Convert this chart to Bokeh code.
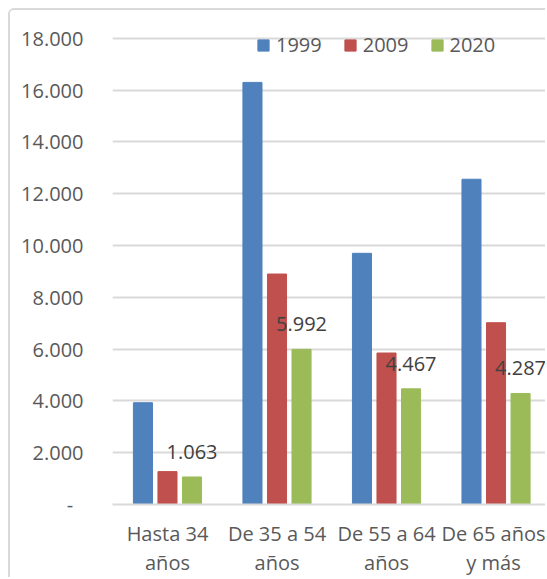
from bokeh.plotting import figure
from bokeh.models import ColumnDataSource, Legend, LegendItem, FixedTicker, Range1d
from bokeh.transform import dodge
from bokeh.core.properties import value
from bokeh.embed import file_html
from bokeh.resources import INLINE

categories = ["Hasta 34\naños", "De 35 a 54\naños", "De 55 a 64\naños", "De 65 años\ny más"]
years = ["1999", "2009", "2020"]
values_1999 = [3930, 16300, 9700, 12560]
values_2009 = [1270, 8900, 5850, 7020]
values_2020 = [1063, 5992, 4467, 4287]
labels_2020 = ["1.063", "5.992", "4.467", "4.287"]
y_ticks = [0, 2000, 4000, 6000, 8000, 10000, 12000, 14000, 16000, 18000]
y_tick_labels = ["-\u00a0\u00a0", "2.000", "4.000", "6.000", "8.000", "10.000",
                 "12.000", "14.000", "16.000", "18.000"]
colors = ["#4F81BD", "#C0504D", "#9BBB59"]

FONT = "Open Sans"
TXT = "#595959"

idx = list(range(len(categories)))
src = ColumnDataSource(dict(x=idx, v1999=values_1999, v2009=values_2009,
                            v2020=values_2020, lab=labels_2020))

p = figure(x_range=Range1d(-0.502, 3.47), y_range=Range1d(0, 18690), width=537, height=569,
           output_backend="svg", toolbar_location=None,
           min_border_left=102, min_border_right=0, min_border_top=10, min_border_bottom=73)
p.styles = {"margin-left": "8px", "margin-top": "8px",
            "border-left": "2px solid #d9d9d9", "border-top": "2px solid #d9d9d9",
            "border-top-left-radius": "6px"}
p.outline_line_color = None
p.background_fill_color = "white"
p.border_fill_color = "white"

stride = 0.224
bw = 0.174
renderers = []
for i, (col, c) in enumerate(zip(["v1999", "v2009", "v2020"], colors)):
    r = p.vbar(x=dodge("x", (i - 1) * stride), top=col, width=bw,
               source=src, fill_color=c, line_color=c)
    renderers.append(r)

p.text(x=dodge("x", stride), y="v2020", text="lab", source=src,
       text_align="center", text_baseline="middle", y_offset=-25, x_offset=0,
       text_font=value(FONT), text_font_size="20px", text_color="#404040")

p.yaxis.ticker = FixedTicker(ticks=y_ticks)
p.yaxis.major_label_overrides = {t: l for t, l in zip(y_ticks, y_tick_labels)}
p.xaxis.ticker = FixedTicker(ticks=idx)
p.xaxis.major_label_overrides = {i: c for i, c in zip(idx, categories)}
for ax in (p.xaxis, p.yaxis):
    ax.major_tick_line_color = None
    ax.minor_tick_line_color = None
    ax.major_label_text_font = FONT
    ax.major_label_text_font_size = "20px"
    ax.major_label_text_color = TXT
p.yaxis.axis_line_color = None
p.yaxis.major_label_standoff = 23
p.xaxis.axis_line_color = "#d9d9d9"
p.xaxis.axis_line_width = 2
p.xaxis.major_label_standoff = 9
p.xaxis.major_label_text_line_height = 1.1

p.xgrid.grid_line_color = None
p.ygrid.grid_line_color = "#d9d9d9"
p.ygrid.grid_line_width = 2

legend = Legend(items=[LegendItem(label=y, renderers=[r]) for y, r in zip(years, renderers)],
                orientation="horizontal", location=(144, 446), padding=0, margin=0,
                glyph_width=14, glyph_height=14, label_standoff=6, spacing=21,
                label_text_font=FONT, label_text_font_size="20px", label_text_color=TXT,
                border_line_color=None, background_fill_alpha=0)
p.add_layout(legend, "center")

open("out.html", "w").write(file_html(p, INLINE))
